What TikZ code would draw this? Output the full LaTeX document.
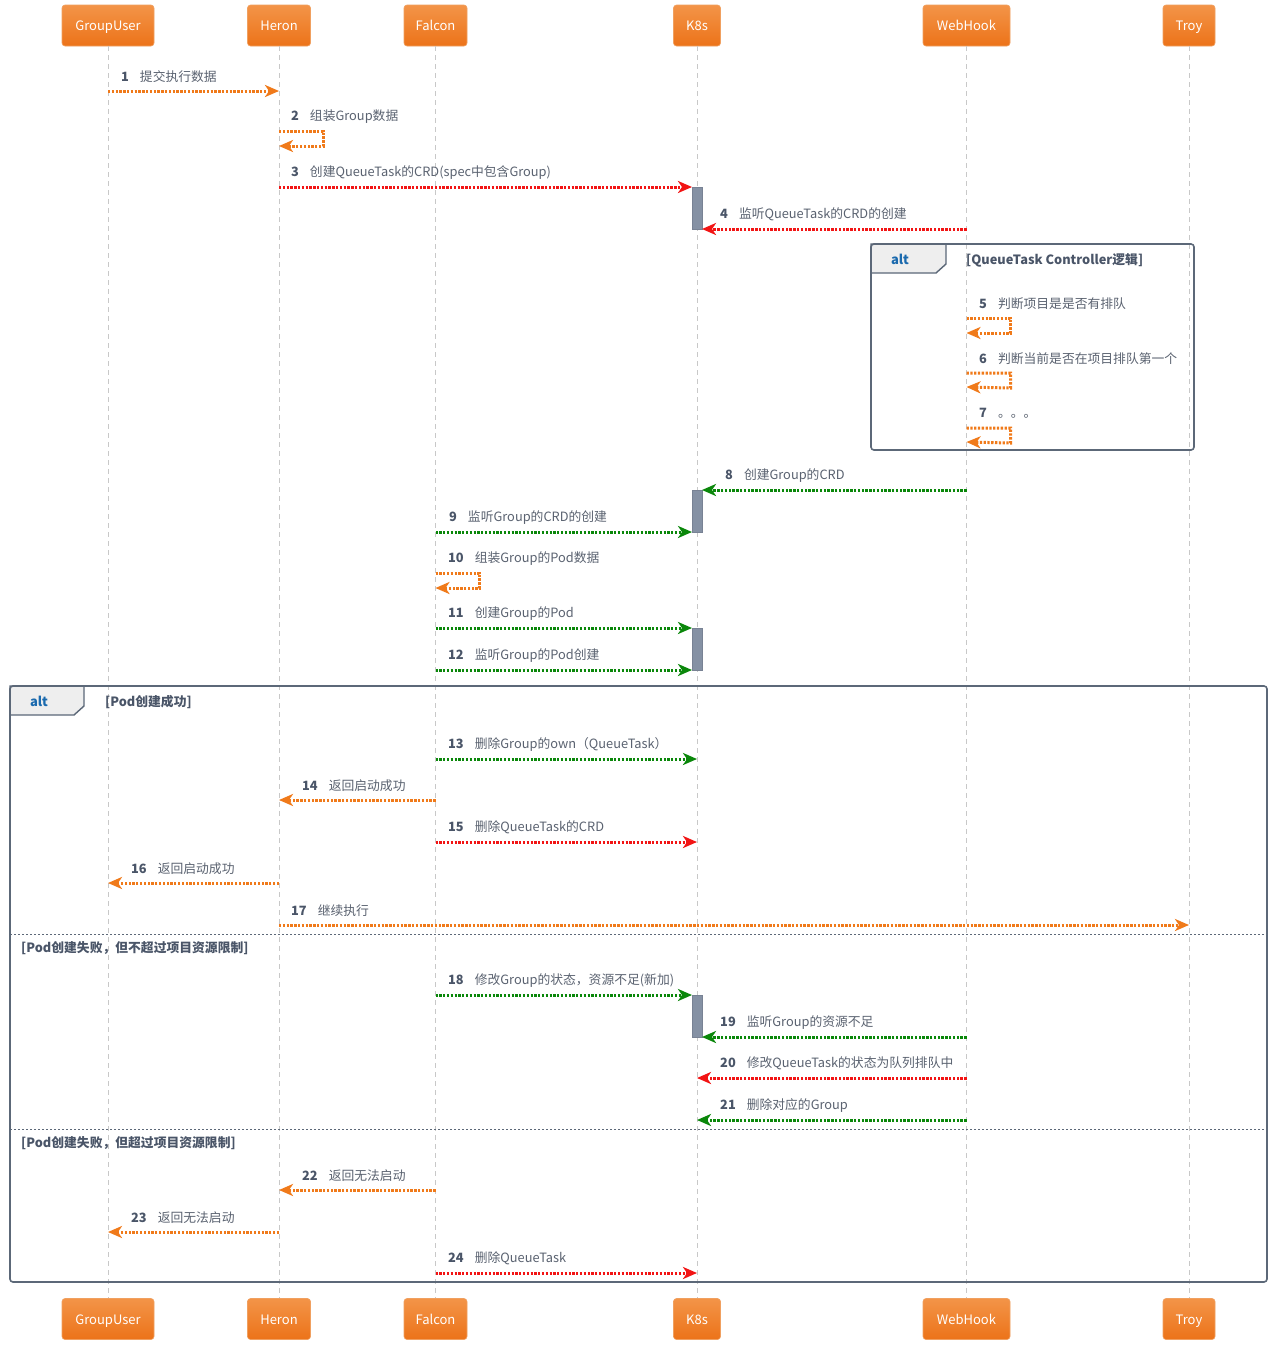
\documentclass[tikz,border=0pt]{standalone}
\usepackage{fontspec}
\setmainfont{Noto Sans CJK SC}
\usetikzlibrary{arrows.meta}
\definecolor{orng}{HTML}{F07A1A}
\definecolor{redc}{HTML}{F21414}
\definecolor{grnc}{HTML}{0A870A}
\definecolor{actTop}{HTML}{F39448}
\definecolor{actBot}{HTML}{EC7319}
\definecolor{actBorder}{HTML}{F0A060}
\definecolor{lifec}{HTML}{C8C8C8}
\definecolor{barc}{HTML}{8591A4}
\definecolor{framec}{HTML}{5C6878}
\definecolor{tabc}{HTML}{EEEEEE}
\definecolor{numc}{HTML}{4A5568}
\definecolor{txtc}{HTML}{5A6270}
\definecolor{altc}{HTML}{1B6AAE}
\newcommand\seqmsg[7]{%
  \draw[#4] (#1 |- 0,#3) -- (#2 |- 0,#3);
  \node[lbl] at (#5,#3-14.5) {{\bfseries\color{numc}#6}\hspace{11pt}#7};}
\newcommand\selfmsg[6]{%
  \draw[slf] (#1 |- 0,#2) -- ++(44,0) -- ++(0,15) -- (#1 |- 0,#3);
  \node[lbl] at (#4,#2-14.5) {{\bfseries\color{numc}#5}\hspace{11pt}#6};}
\begin{document}
\begin{tikzpicture}[x=1pt,y=-1pt,
  actor/.style={rectangle, rounded corners=3pt, top color=actTop, bottom color=actBot,
    draw=actBorder, line width=0.6pt, text=white, font=\fontsize{13}{15}\selectfont,
    minimum height=41pt, inner sep=0pt, text height=12pt, text depth=2pt},
  lifeline/.style={draw=lifec, line width=0.9pt, dash pattern=on 5pt off 4pt},
  om/.style={line width=3pt, dash pattern=on 2.3pt off 1.5pt, draw=orng,
    -{Stealth[length=14pt,width=12pt,inset=4pt,fill=orng]}},
  rm/.style={line width=3pt, dash pattern=on 2.3pt off 1.5pt, draw=redc,
    -{Stealth[length=14pt,width=12pt,inset=4pt,fill=redc]}},
  gm/.style={line width=3pt, dash pattern=on 2.3pt off 1.5pt, draw=grnc,
    -{Stealth[length=14pt,width=12pt,inset=4pt,fill=grnc]}},
  slf/.style={om},
  lbl/.style={anchor=west, inner sep=0pt, text=txtc, font=\fontsize{12.8}{15}\selectfont},
  actbar/.style={fill=barc, draw=barc!90!black, line width=0.5pt},
  frame/.style={draw=framec, line width=1.6pt, rounded corners=3pt},
  tab/.style={fill=tabc, draw=framec, line width=1.4pt},
  altlbl/.style={inner sep=0pt, text=altc, font=\fontsize{13}{15}\selectfont\bfseries},
  guard/.style={anchor=west, inner sep=0pt, text=numc, font=\fontsize{12.8}{15}\selectfont\bfseries},
  sep/.style={draw=framec, line width=0.8pt, dash pattern=on 2pt off 2pt}
]
\useasboundingbox (0,0) rectangle (1273,1345);
\fill[white] (0,0) rectangle (1273,1345);

% actors top
\node[actor, minimum width=92pt] (gut) at (108,25.5) {GroupUser};
\node[actor, minimum width=63pt] (het) at (279,25.5) {Heron};
\node[actor, minimum width=63pt] (fat) at (435.5,25.5) {Falcon};
\node[actor, minimum width=47pt] (k8t) at (697,25.5) {K8s};
\node[actor, minimum width=87pt] (wht) at (966.5,25.5) {WebHook};
\node[actor, minimum width=52pt] (trt) at (1189,25.5) {Troy};
% actors bottom
\node[actor, minimum width=92pt] (gub) at (108,1319) {GroupUser};
\node[actor, minimum width=63pt] (heb) at (279,1319) {Heron};
\node[actor, minimum width=63pt] (fab) at (435.5,1319) {Falcon};
\node[actor, minimum width=47pt] (k8b) at (697,1319) {K8s};
\node[actor, minimum width=87pt] (whb) at (966.5,1319) {WebHook};
\node[actor, minimum width=52pt] (trb) at (1189,1319) {Troy};

% lifelines
\draw[lifeline] (gut) -- (gub);
\draw[lifeline] (het) -- (heb);
\draw[lifeline] (fat) -- (fab);
\draw[lifeline] (k8t) -- (k8b);
\draw[lifeline] (wht) -- (whb);
\draw[lifeline] (trt) -- (trb);

\coordinate (kL) at (692,0);
\coordinate (kR) at (702,0);

% activation bars
\filldraw[actbar] (692,187) rectangle (702,229);
\filldraw[actbar] (692,490) rectangle (702,532);
\filldraw[actbar] (692,628) rectangle (702,670);
\filldraw[actbar] (692,995) rectangle (702,1037);

% alt frame 1
\filldraw[tab] (871,244) -- (946,244) -- (946,264) -- (936,273) -- (871,273) -- cycle;
\draw[frame] (871,244) rectangle (1194,450);
\node[altlbl] (alt1) at (900,259.5) {alt};
\node[guard] (g1) at (966,260.5) {[QueueTask Controller逻辑]};

% alt frame 2
\filldraw[tab] (10,686) -- (84,686) -- (84,706) -- (74,715) -- (10,715) -- cycle;
\draw[frame] (10,686) rectangle (1267,1282);
\node[altlbl] (alt2) at (39,701) {alt};
\node[guard] (g2) at (105,702) {[Pod创建成功]};
\draw[sep] (10,934) -- (1267,934);
\node[guard] (g3) at (21,948.5) {[Pod创建失败，但不超过项目资源限制]};
\draw[sep] (10,1129) -- (1267,1129);
\node[guard] (g4) at (21,1143.5) {[Pod创建失败，但超过项目资源限制]};

% messages
\seqmsg{gut}{het}{91}{om}{121}{1}{提交执行数据}
\selfmsg{het}{131}{146}{291}{2}{组装Group数据}
\seqmsg{het}{kL}{187}{rm}{291}{3}{创建QueueTask的CRD(spec中包含Group)}
\seqmsg{wht}{kR}{229}{rm}{720}{4}{监听QueueTask的CRD的创建}
\selfmsg{wht}{318}{333}{979}{5}{判断项目是是否有排队}
\selfmsg{wht}{373}{387}{979}{6}{判断当前是否在项目排队第一个}
\selfmsg{wht}{428}{442}{979}{7}{。。。}
\seqmsg{wht}{kR}{490}{gm}{725}{8}{创建Group的CRD}
\seqmsg{fat}{kL}{532}{gm}{449}{9}{监听Group的CRD的创建}
\selfmsg{fat}{573}{588}{448}{10}{组装Group的Pod数据}
\seqmsg{fat}{kL}{628}{gm}{448}{11}{创建Group的Pod}
\seqmsg{fat}{kL}{670}{gm}{448}{12}{监听Group的Pod创建}
\seqmsg{fat}{k8t}{759}{gm}{448}{13}{删除Group的own（QueueTask）}
\seqmsg{fat}{het}{800}{om}{302}{14}{返回启动成功}
\seqmsg{fat}{k8t}{842}{rm}{448}{15}{删除QueueTask的CRD}
\seqmsg{het}{gut}{883}{om}{131}{16}{返回启动成功}
\seqmsg{het}{trt}{925}{om}{291}{17}{继续执行}
\seqmsg{fat}{kL}{995}{gm}{448}{18}{修改Group的状态，资源不足(新加)}
\seqmsg{wht}{kR}{1037}{gm}{720}{19}{监听Group的资源不足}
\seqmsg{wht}{k8t}{1078}{rm}{720}{20}{修改QueueTask的状态为队列排队中}
\seqmsg{wht}{k8t}{1120}{gm}{720}{21}{删除对应的Group}
\seqmsg{fat}{het}{1190}{om}{302}{22}{返回无法启动}
\seqmsg{het}{gut}{1232}{om}{131}{23}{返回无法启动}
\seqmsg{fat}{k8t}{1273}{rm}{448}{24}{删除QueueTask}
\end{tikzpicture}
\end{document}
